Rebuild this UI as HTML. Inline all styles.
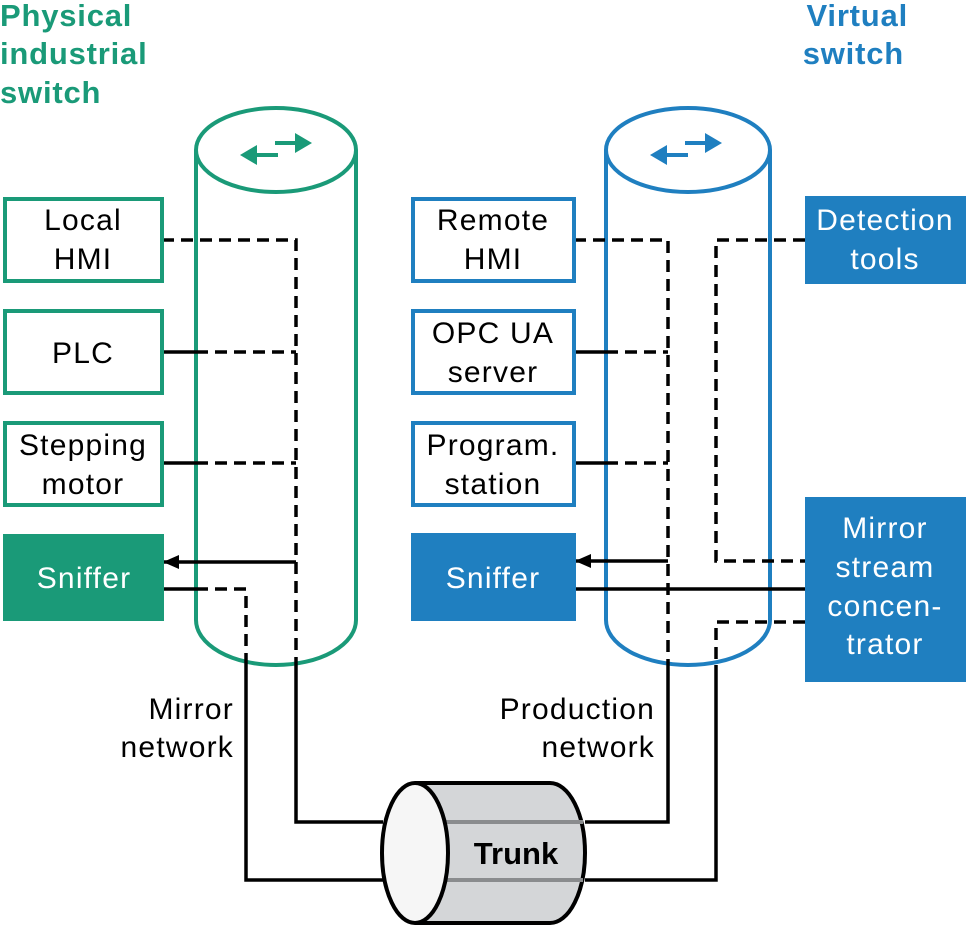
<!DOCTYPE html>
<html><head><meta charset="utf-8"><style>
body{margin:0;background:#fff}
svg text{font-family:"Liberation Sans",sans-serif}
</style></head><body>
<svg width="969" height="928" viewBox="0 0 969 928" xmlns="http://www.w3.org/2000/svg">
<defs>
<marker id="ah" markerWidth="16" markerHeight="14" refX="15" refY="7" orient="auto" markerUnits="userSpaceOnUse">
<path d="M0,0 L16,7 L0,14 z" fill="#000"/></marker>
</defs>
<!-- titles -->
<g font-weight="bold" font-size="31" fill="#1a9a78" letter-spacing="0.8">
<text x="0" y="26">Physical</text><text x="0" y="64">industrial</text><text x="0" y="103">switch</text>
</g>
<g font-weight="bold" font-size="31" fill="#1f7fc0" text-anchor="end" letter-spacing="0.8">
<text x="908" y="26">Virtual</text><text x="904" y="64">switch</text>
</g>
<!-- cylinders -->
<g fill="none" stroke-width="4">
<path d="M196,150 L196,620 A80,45 0 0 0 356,620 L356,150" stroke="#1a9a78"/>
<ellipse cx="276" cy="150" rx="80" ry="42" stroke="#1a9a78"/>
<path d="M606,150 L606,620 A82,45 0 0 0 770,620 L770,150" stroke="#1f7fc0"/>
<ellipse cx="688" cy="150" rx="82" ry="42" stroke="#1f7fc0"/>
</g>
<!-- switch arrows -->
<g fill="#1a9a78">
<rect x="254" y="153" width="24" height="4"/><path d="M240,155 L257,145 L257,165z"/>
<rect x="275" y="141" width="24" height="4"/><path d="M312,143 L295,133 L295,153z"/>
</g>
<g fill="#1f7fc0">
<rect x="664" y="153" width="24" height="4"/><path d="M650,155 L667,145 L667,165z"/>
<rect x="685" y="141" width="24" height="4"/><path d="M722,143 L705,133 L705,153z"/>
</g>
<!-- trunk -->
<path d="M415,783 L550,783 A35,70 0 0 1 550,923 L415,923" fill="#d4d6d8" stroke="#000" stroke-width="4"/>
<line x1="440" y1="822" x2="583" y2="822" stroke="#8a8c8e" stroke-width="4"/>
<line x1="440" y1="880" x2="583" y2="880" stroke="#8a8c8e" stroke-width="4"/>
<ellipse cx="415" cy="853" rx="33" ry="70" fill="#f6f6f6" stroke="#000" stroke-width="4"/>
<!-- connectors -->
<g fill="none" stroke="#000" stroke-width="3.5">
<g stroke-dasharray="12,7">
<path d="M162,240 L296,240 L296,665"/>
<path d="M196,352 L296,352"/><path d="M196,463 L296,463"/>
<path d="M196,589 L246,589 L246,665"/>
<path d="M574,240 L668,240 L668,665"/>
<path d="M606,352 L668,352"/><path d="M606,463 L668,463"/>
<path d="M805,240 L716,240 L716,561 L805,561"/>
<path d="M805,622 L716,622 L716,665"/>
</g>
<path d="M162,352 L196,352 M162,463 L196,463 M162,589 L196,589"/>
<path d="M574,352 L606,352 M574,463 L606,463 M574,589 L805,589"/>
<path d="M296,665 L296,822 L383,822 M246,665 L246,880 L383,880"/>
<path d="M668,665 L668,822 L585,822 M716,665 L716,880 L585,880"/>
<path d="M296,562 L164,562" marker-end="url(#ah)"/>
<path d="M668,561 L576,561" marker-end="url(#ah)"/>
</g>
<!-- boxes -->
<g stroke-width="4" fill="#fff">
<rect x="5" y="199" width="157" height="82" stroke="#1a9a78"/>
<rect x="5" y="311" width="157" height="82" stroke="#1a9a78"/>
<rect x="5" y="423" width="157" height="82" stroke="#1a9a78"/>
<rect x="413" y="199" width="161" height="82" stroke="#1f7fc0"/>
<rect x="413" y="311" width="161" height="82" stroke="#1f7fc0"/>
<rect x="413" y="423" width="161" height="82" stroke="#1f7fc0"/>
</g>
<rect x="3" y="534" width="161" height="87" fill="#1a9a78"/>
<rect x="411" y="533" width="165" height="88" fill="#1f7fc0"/>
<rect x="805" y="196" width="161" height="88" fill="#1f7fc0"/>
<rect x="805" y="497" width="161" height="185" fill="#1f7fc0"/>
<!-- labels -->
<g font-size="30" text-anchor="middle" fill="#000" letter-spacing="1.2">
<text x="83" y="230">Local</text><text x="83" y="269">HMI</text>
<text x="83" y="363">PLC</text>
<text x="83" y="455">Stepping</text><text x="83" y="494">motor</text>
<text x="493" y="230">Remote</text><text x="493" y="269">HMI</text>
<text x="493" y="343">OPC UA</text><text x="493" y="382">server</text>
<text x="493" y="455">Program.</text><text x="493" y="494">station</text>
</g>
<g font-size="30" text-anchor="middle" fill="#fff" letter-spacing="1.2">
<text x="84" y="588">Sniffer</text>
<text x="493" y="588">Sniffer</text>
<text x="885" y="230">Detection</text><text x="885" y="269">tools</text>
<text x="885" y="538">Mirror</text><text x="885" y="577">stream</text><text x="885" y="616">concen-</text><text x="885" y="654">trator</text>
</g>
<g font-size="30" text-anchor="end" fill="#000" letter-spacing="1.2">
<text x="234" y="719">Mirror</text><text x="234" y="757">network</text>
<text x="655" y="719">Production</text><text x="655" y="757">network</text>
</g>
<text x="516" y="864" font-size="31" font-weight="bold" text-anchor="middle">Trunk</text>
</svg>
</body></html>
